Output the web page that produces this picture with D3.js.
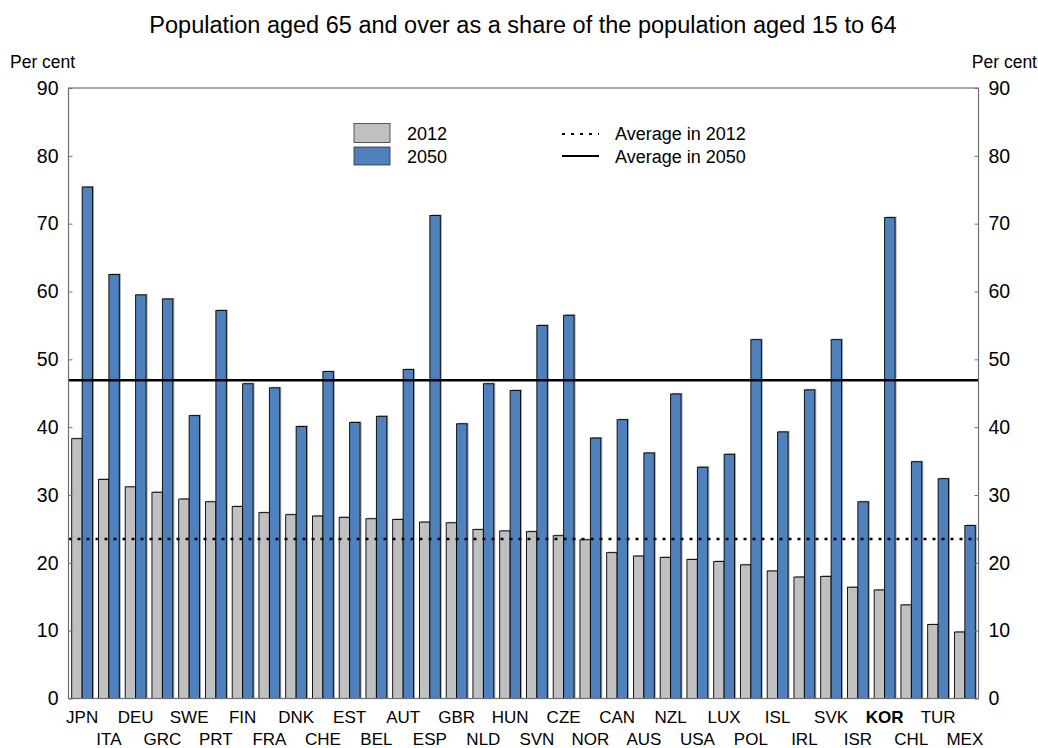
<!DOCTYPE html>
<html>
<head>
<script src="https://d3js.org/d3.v7.min.js"></script>
<style>
  body { margin: 0; background: #fff; }
  text { font-family: Arial, "Liberation Sans", sans-serif; fill: #000; }
</style>
</head>
<body>
<svg id="chart" width="1038" height="748"></svg>
<script>
const countries = ["JPN","ITA","DEU","GRC","SWE","PRT","FIN","FRA","DNK","CHE","EST","BEL","AUT","ESP","GBR","NLD","HUN",
  "SVN","CZE","NOR","CAN","AUS","NZL","USA","LUX","POL","ISL","IRL","SVK","ISR","KOR","CHL","TUR","MEX"];
const v2012 = [38.3,32.3,31.2,30.4,29.4,29.0,28.3,27.4,27.1,26.9,26.7,26.5,26.4,26.0,25.9,24.9,24.7,
  24.6,24.0,23.4,21.5,21.0,20.8,20.5,20.2,19.7,18.8,17.9,18.0,16.4,16.0,13.8,10.9,9.8];
const v2050 = [75.4,62.5,59.5,58.9,41.7,57.2,46.4,45.8,40.1,48.2,40.7,41.6,48.5,71.2,40.5,46.4,45.4,
  55.0,56.5,38.4,41.1,36.2,44.9,34.1,36.0,52.9,39.3,45.5,52.9,29.0,70.9,34.9,32.4,25.5];
const avg2012 = 23.5;
const avg2050 = 46.9;
const yTicks = [0,10,20,30,40,50,60,70,80,90];

const svg = d3.select("#chart");
const pLeft = 68.5, pRight = 978.5, pTop = 88, pBottom = 698.5;

const x = d3.scaleBand().domain(countries).range([pLeft, pRight]).paddingInner(0.22).paddingOuter(0.12);
const y = d3.scaleLinear().domain([0, 90]).range([pBottom, pTop]);

// title
svg.append("text").attr("x", 523).attr("y", 33).attr("text-anchor", "middle")
  .style("font-size", "23.5px").text("Population aged 65 and over as a share of the population aged 15 to 64");

svg.append("text").attr("x", 10).attr("y", 68).style("font-size", "17.5px").text("Per cent");
svg.append("text").attr("x", 1037).attr("y", 68).attr("text-anchor", "end").style("font-size", "17.5px").text("Per cent");

// bars
const bw = x.bandwidth() / 2;
function drawBar(vals, off, color) {
  const g = svg.append("g");
  g.selectAll("rect.shadow").data(countries).join("rect").attr("class", "shadow")
    .attr("x", d => x(d) + off + 1.5).attr("y", (d, i) => y(vals[i]) - 1)
    .attr("width", bw).attr("height", (d, i) => pBottom - y(vals[i]) + 1)
    .attr("fill", "#a8a8a8");
  g.selectAll("rect.bar").data(countries).join("rect").attr("class", "bar")
    .attr("x", d => x(d) + off).attr("y", (d, i) => y(vals[i]))
    .attr("width", bw).attr("height", (d, i) => pBottom - y(vals[i]))
    .attr("fill", color).attr("stroke", "#000").attr("stroke-width", 0.9);
}
drawBar(v2012, 0, "#C0C0C0");
drawBar(v2050, bw, "#4F81BD");

// average lines
svg.append("line").attr("x1", pLeft).attr("x2", pRight).attr("y1", y(avg2012)).attr("y2", y(avg2012))
  .attr("stroke", "#000").attr("stroke-width", 2.5).attr("stroke-dasharray", "3,6");
svg.append("line").attr("x1", pLeft).attr("x2", pRight).attr("y1", y(avg2050)).attr("y2", y(avg2050))
  .attr("stroke", "#000").attr("stroke-width", 2.5);

// frame and axes
svg.append("rect").attr("x", pLeft).attr("y", pTop).attr("width", pRight - pLeft).attr("height", pBottom - pTop)
  .attr("fill", "none").attr("stroke", "#707070").attr("stroke-width", 1.2);

const yl = svg.append("g").attr("transform", `translate(${pLeft},0)`)
  .call(d3.axisRight(y).tickValues(yTicks).tickSize(4));
yl.select(".domain").remove();
yl.selectAll("line").attr("stroke", "#707070");
yl.selectAll("text").attr("text-anchor", "end").attr("x", -10).style("font-size", "19.5px").attr("font-family", null);

const yr = svg.append("g").attr("transform", `translate(${pRight},0)`)
  .call(d3.axisLeft(y).tickValues(yTicks).tickSize(4));
yr.select(".domain").remove();
yr.selectAll("line").attr("stroke", "#707070");
yr.selectAll("text").attr("text-anchor", "start").attr("x", 10).style("font-size", "19.5px").attr("font-family", null);

// x labels, staggered
svg.append("g").selectAll("text").data(countries).join("text")
  .attr("x", d => x(d) + x.bandwidth() / 2)
  .attr("y", (d, i) => i % 2 === 0 ? 722.5 : 745)
  .attr("text-anchor", "middle")
  .style("font-size", "17px")
  .style("font-weight", d => d === "KOR" ? "bold" : "normal")
  .text(d => d);

// legend
const lg = svg.append("g");
lg.append("rect").attr("x", 354).attr("y", 123.5).attr("width", 36).attr("height", 19)
  .attr("fill", "#C0C0C0").attr("stroke", "#333").attr("stroke-width", 0.8);
lg.append("rect").attr("x", 354).attr("y", 147).attr("width", 36).attr("height", 18)
  .attr("fill", "#4F81BD").attr("stroke", "#333").attr("stroke-width", 0.8);
lg.append("text").attr("x", 407).attr("y", 140).style("font-size", "18px").text("2012");
lg.append("text").attr("x", 407).attr("y", 163).style("font-size", "18px").text("2050");
lg.append("line").attr("x1", 562).attr("x2", 599).attr("y1", 134).attr("y2", 134)
  .attr("stroke", "#000").attr("stroke-width", 2.2).attr("stroke-dasharray", "3,6");
lg.append("line").attr("x1", 562).attr("x2", 599).attr("y1", 156).attr("y2", 156)
  .attr("stroke", "#000").attr("stroke-width", 2.2);
lg.append("text").attr("x", 615).attr("y", 140).style("font-size", "18px").text("Average in 2012");
lg.append("text").attr("x", 615).attr("y", 163).style("font-size", "18px").text("Average in 2050");
</script>
</body>
</html>
